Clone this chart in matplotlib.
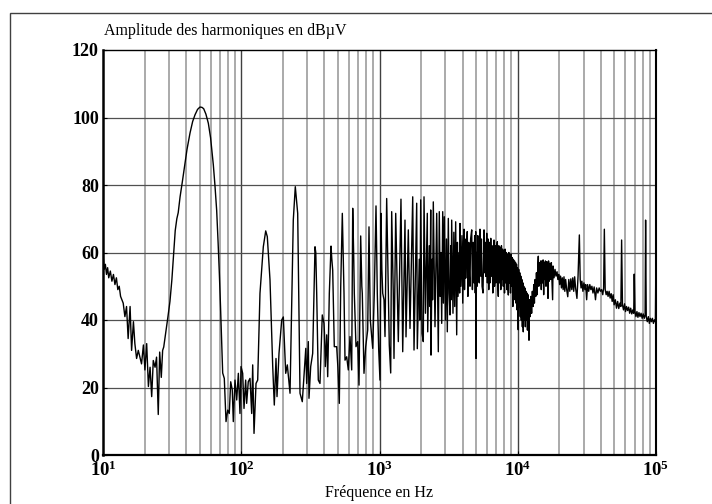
import matplotlib
matplotlib.use("Agg")
import matplotlib.pyplot as plt
from matplotlib.patches import Rectangle
from matplotlib.ticker import NullLocator

plt.rcParams['font.family'] = 'Liberation Serif'
plt.rcParams['mathtext.fontset'] = 'custom'
plt.rcParams['mathtext.rm'] = 'Liberation Serif'
plt.rcParams['mathtext.bf'] = 'Liberation Serif:bold'

# (frequency Hz, amplitude dBuV)
low_noise = [
    (10.0, 59.5), (10.2, 55), (10.4, 56.5), (10.6, 53.5), (10.8, 55.5), (11.0, 52.5),
    (11.3, 54.5), (11.6, 51.5), (11.9, 53.5), (12.2, 50.5), (12.5, 52.5), (12.8, 49),
    (13.1, 50), (13.4, 47), (13.7, 46), (14.0, 45), (14.4, 41), (14.8, 44), (15.2, 34.5),
    (15.7, 44), (16.1, 31), (16.6, 39.5), (17.0, 33), (17.5, 28.6), (18.0, 31), (18.5, 29),
    (19.0, 27), (19.6, 32.6), (20.1, 25.2), (20.7, 33), (21.3, 20.3), (21.9, 26),
    (22.5, 17.3), (23.1, 28), (23.8, 26), (24.4, 29), (25.1, 12), (25.7, 30.5),
    (26.4, 23), (27.0, 31),
]

fundamental = [
    (27.5, 32), (28.5, 36.5), (29.5, 41), (30.5, 45.5), (31.5, 52), (32.5, 60),
    (33.3, 66.5), (34.2, 70), (35.0, 71.8), (36.1, 76.5), (37.5, 81), (39.2, 86.5),
    (40.5, 90.5), (42.6, 95.4), (44.5, 98.8), (46.3, 100.8), (48.3, 102.4), (50.3, 103.1),
    (52.0, 103.0), (53.5, 102.6), (55.5, 101), (57.8, 98.3), (60.0, 94), (62.8, 86),
    (64.5, 80), (66.4, 72.5), (68.0, 63), (69.4, 54), (70.8, 44), (72.2, 33), (73.4, 24.3),
]

low_harmonics = [
    (75.4, 22.7), (77.6, 9.9), (79.8, 13.3), (81.9, 12.3), (83.9, 21.7), (86.1, 19.3),
    (87.6, 9.9), (90.1, 22.2), (92.7, 16.3), (95.3, 24.2), (97.9, 12.3), (99.6, 26.2),
    (102.4, 24.2), (104.7, 13.8), (107.6, 22.2), (109.4, 15.3), (112.4, 21.7), (115.7, 22.7),
    (119.0, 12.3), (121.0, 26.7), (123.7, 6.4), (127.9, 21.2), (131.5, 22.2), (136.6, 47.9),
    (144.4, 61.7), (150.3, 66.4), (154.3, 64.7), (161.4, 51.9), (168.9, 26.2), (173.4, 14.8),
    (178.4, 28.6), (181.4, 17.3), (187.5, 30.1), (196.2, 40), (201.5, 40.9), (209.7, 24.2),
    (215.4, 26.7), (225.3, 18.3), (237.9, 69.6), (246.0, 79.5), (256.0, 71.6), (266.1, 18.3),
    (276.4, 15.8), (289.1, 28.1), (293.0, 31.6), (297.4, 21.2), (305.5, 33.6), (309.0, 16.8),
    (317.9, 26.2), (328.6, 30.1), (341.6, 61.7), (346.0, 60), (351.3, 48), (360.8, 22.2),
    (371.1, 21.2), (385.6, 41.5), (396.7, 39.0), (400.0, 36), (405.5, 26.2), (415.0, 35.6),
    (422.0, 23.2), (433.5, 47.9), (446.0, 61.9), (452.0, 58), (458.6, 54.8), (471.0, 32.1),
    (490.0, 32.1), (500.0, 26), (512.0, 15.3), (524.2, 49.9), (538.3, 71.6), (546.0, 60),
    (553.7, 47.9), (563.0, 28.1), (579.0, 29.1), (594.7, 25.2), (611.8, 35.1), (629.4, 25.2),
    (640.0, 73.1), (650.0, 60), (657.3, 47.9), (676.0, 32.1), (695.6, 33.6), (710.8, 20.7),
    (731.0, 64.9), (745.0, 50), (750.8, 47.9), (772.3, 24.2), (794.6, 32.1), (821.4, 37.0),
    (839.5, 67.6), (858.0, 40.0), (893.0, 31.6), (917.0, 47.9), (943.4, 73.8), (955.0, 60),
    (964.0, 47.9), (987.0, 31.0), (1008.0, 22.2), (1025.0, 71.6), (1040.0, 55),
    (1055.0, 47.9), (1078.0, 46.0), (1096.0, 35.1), (1127.0, 76.0), (1158.0, 47.9),
    (1177.0, 32.6), (1205.0, 24.3), (1225.0, 72.1), (1258.0, 47.9), (1273.0, 28.6),
    (1310.0, 71.6), (1368.0, 33.6),
]

dense_band = [
    (1430, 75.8), (1472, 30.6), (1529, 69.6), (1555, 35.0), (1616, 66.7), (1662, 37.5),
    (1739, 76.5), (1777, 31.1), (1858, 74.6), (1877, 31.5), (1940, 58), (1960, 40),
    (1986, 75.6), (2030, 36), (2074, 33.6), (2099, 76.5), (2150, 42), (2217, 71.6),
    (2232, 36.5), (2290, 62), (2320, 44), (2346, 72.6), (2358, 29.6), (2400, 58),
    (2420, 46), (2450, 75.0), (2520, 38.0), (2593, 71.6), (2663, 30.6), (2707, 72.1),
    (2750, 47), (2780, 60), (2818, 39.0), (2866, 72.1), (2900, 45), (2943, 70.6),
    (3000, 40), (3050, 64), (3094, 36.5), (3146, 70.1), (3190, 48), (3236, 41.5),
    (3280, 62), (3300, 46), (3328, 69.6), (3400, 42), (3450, 66), (3500, 44),
    (3556, 69.1), (3617, 35.6), (3660, 63), (3700, 47), (3760, 60), (3800, 48),
    (3822, 68.6), (3880, 50), (3950, 65), (4000, 45), (4050, 63), (4086, 66.9),
    (4120, 49), (4160, 64), (4204, 52.4), (4260, 61), (4315, 66.2), (4360, 47),
    (4420, 63), (4470, 53), (4514, 50), (4560, 64), (4645, 66.7), (4700, 49),
    (4760, 63), (4820, 51), (4880, 65), (4930, 48), (4963, 66.2), (4990, 28.6),
    (5030, 60), (5080, 50), (5140, 65), (5200, 52), (5272, 51), (5333, 66.9),
    (5400, 53), (5460, 64), (5520, 50), (5606, 48), (5702, 66.7), (5760, 54),
    (5820, 63), (5890, 52.9), (5964, 65.7), (6030, 51), (6100, 64), (6170, 49),
    (6240, 63), (6300, 51), (6380, 64.2), (6450, 53), (6520, 62), (6600, 48),
    (6657, 53.8), (6734, 63.7), (6800, 50), (6880, 62), (6960, 51), (7040, 61),
    (7115, 63.2), (7180, 50), (7234, 47), (7300, 62), (7380, 51), (7460, 61.5),
    (7540, 49), (7620, 62), (7700, 52), (7780, 61), (7860, 50), (7940, 60.5),
    (8020, 48), (8100, 61), (8180, 51), (8260, 60), (8340, 49), (8420, 59.5),
    (8500, 50), (8550, 47.4), (8620, 60), (8700, 51), (8780, 59), (8860, 48),
    (8940, 59.5), (9020, 50), (9100, 58.5), (9220, 44), (9300, 58), (9400, 48),
    (9480, 57.5), (9560, 46), (9640, 57), (9720, 45), (9800, 56.5), (9880, 43),
    (9960, 55.5),
]

high_band = [
    (10080, 37.1), (10160, 55), (10250, 44), (10340, 54), (10430, 41), (10520, 53),
    (10610, 40), (10700, 52), (10800, 38), (10900, 51), (10965, 36.5), (11050, 50),
    (11150, 40), (11250, 49.5), (11350, 38), (11450, 48.5), (11550, 40), (11650, 48),
    (11750, 37), (11850, 47.5), (11950, 39), (12060, 34), (12150, 46), (12300, 41),
    (12450, 47), (12600, 42), (12750, 48.5), (12900, 44), (13050, 50.5), (13200, 45),
    (13350, 52), (13500, 47), (13650, 54), (13800, 47.5), (13950, 55.5), (14085, 58.9),
    (14200, 50), (14350, 57), (14490, 51), (14650, 57.5), (14800, 49), (14950, 57.5),
    (15100, 51), (15250, 57.8), (15400, 47.5), (15550, 57), (15700, 52), (15850, 57.5),
    (16000, 50), (16200, 57.3), (16400, 52), (16550, 46.4), (16700, 57.5), (16900, 51.5),
    (17100, 56.8), (17300, 52), (17500, 57), (17700, 51), (17870, 46), (18000, 56),
    (18300, 52.5), (18600, 55), (18900, 53), (19240, 54.3), (19500, 52), (19800, 53.5),
    (20100, 50.5), (20400, 53), (20700, 49.5), (21000, 52.5), (21300, 49), (21600, 52.8),
    (21900, 48.5), (22200, 52), (22600, 49), (23000, 46.9), (23400, 52), (23800, 48.5),
    (24200, 52.2), (24600, 49), (25000, 52.5), (25400, 48.5), (25800, 52.8), (26200, 49.5),
    (26800, 46.4), (27300, 53), (27900, 65.2), (28300, 52), (28700, 49.5), (29100, 51.5),
    (29600, 48.5), (30100, 51), (30600, 49), (31000, 50.5), (31500, 46), (32000, 50.5),
    (32600, 48.5), (33200, 50.5), (33800, 49), (34400, 50), (35000, 48), (35700, 49.8),
    (36500, 46), (37200, 49.5), (38000, 48), (38800, 49.5), (39600, 48.5), (40400, 49),
    (41200, 47.5), (41800, 49.5), (42300, 66.9), (42900, 49), (43600, 47.5), (44300, 48.5),
    (45000, 47), (45800, 48.5), (46600, 46.5), (47400, 47.8), (48200, 45.5), (49000, 47.5),
    (49800, 44.5), (50800, 46), (51800, 43.5), (52800, 45.5), (53800, 43.4), (54800, 45),
    (55700, 44), (56400, 63.7), (57200, 44.5), (58200, 43), (59200, 44.8), (60200, 42.5),
    (61200, 44), (62300, 42.8), (63400, 43.8), (64500, 42), (65600, 43.5), (66800, 41.8),
    (68000, 43), (69000, 42), (69600, 53.6), (70400, 42.5), (71600, 41), (72800, 42.5),
    (74000, 40.8), (75300, 42.2), (76600, 41), (78000, 42), (79400, 40.5), (80800, 41.8),
    (82300, 40.5), (83400, 41.5), (84100, 69.6), (85000, 41), (86500, 39.5), (88000, 41),
    (89500, 39), (91000, 40.5), (92600, 39.5), (94200, 40.5), (95800, 39), (97500, 40),
    (99000, 39.5), (99600, 52.8), (100000, 40),
]

decades = [10, 100, 1000, 10000, 100000]
decade_labels = [r'$\mathbf{10^{1}}$', r'$\mathbf{10^{2}}$', r'$\mathbf{10^{3}}$',
                 r'$\mathbf{10^{4}}$', r'$\mathbf{10^{5}}$']
level_ticks = [0, 20, 40, 60, 80, 100, 120]

points = low_noise + fundamental + low_harmonics + dense_band + high_band
freq = [p[0] for p in points]
level = [p[1] for p in points]

fig = plt.figure(figsize=(7.12, 5.04), dpi=100)
ax = fig.add_axes([103 / 712, 1 - 455 / 504, 553 / 712, 405 / 504])
ax.set_xscale('log')
ax.set_xlim(10, 1e5)
ax.set_ylim(0, 120)

# grid drawn by hand: light minor verticals, darker decades and horizontals
for d in decades[:-1]:
    for m in range(2, 10):
        ax.axvline(m * d, color='#9c9c9c', lw=1.2, zorder=0)
for d in decades[1:-1]:
    ax.axvline(d, color='#404040', lw=1.0, zorder=0)
for y in level_ticks[1:-1]:
    ax.axhline(y, color='#505050', lw=0.9, zorder=0)

ax.plot(freq, level, color='black', lw=1.0, zorder=2)

ax.set_xticks(decades)
ax.set_xticklabels(decade_labels, fontsize=13.5)
ax.xaxis.set_minor_locator(NullLocator())
ax.set_yticks(level_ticks)
ax.set_yticklabels([str(v) for v in level_ticks], fontsize=13, fontweight='bold')
ax.tick_params(axis='both', direction='in', length=3, width=0.8, pad=3)
ax.tick_params(axis='x', pad=4)

ax.spines['left'].set_linewidth(1.8)
ax.spines['bottom'].set_linewidth(1.6)
ax.spines['top'].set_linewidth(1.0)
ax.spines['right'].set_linewidth(1.5)

fig.text(104 / 712, 1 - 31 / 504, 'Amplitude des harmoniques en dBµV', fontsize=11.5, va='center')
fig.text(379.5 / 712, 1 - 493 / 504, 'Fréquence en Hz', fontsize=11.5, ha='center', va='center')

fig.add_artist(Rectangle((10 / 712, -0.05), 1.2, (504 - 13) / 504 + 0.05,
                         transform=fig.transFigure, fill=False, lw=1.0, ec='#404040'))

fig.savefig('out.png', dpi=100)
